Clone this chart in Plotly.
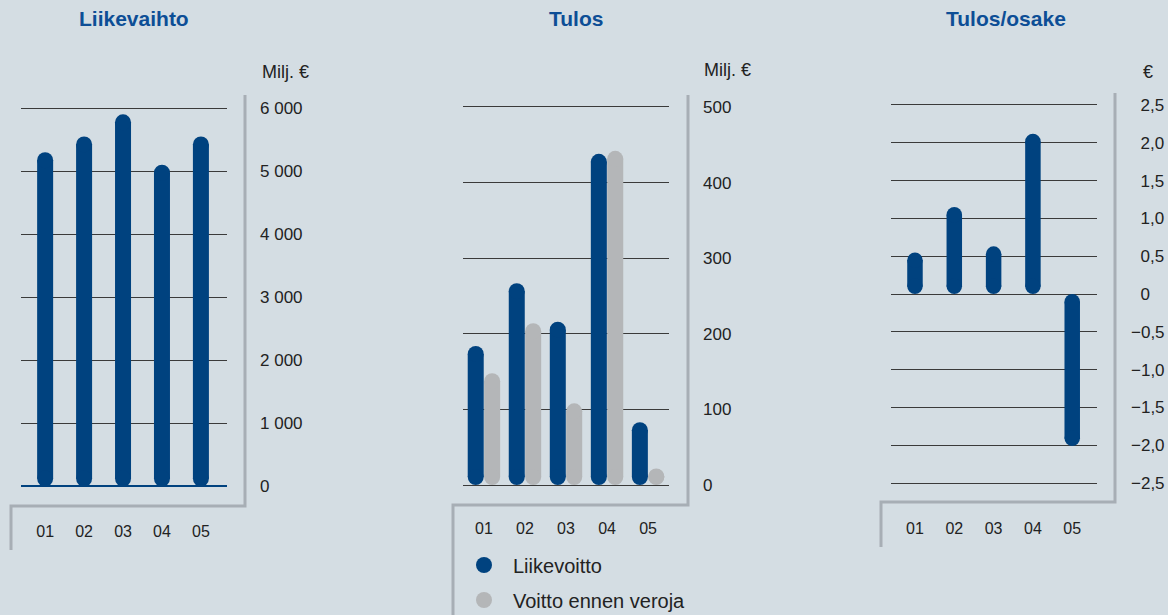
import plotly.graph_objects as go

W, H = 1168, 615

years = ["01", "02", "03", "04", "05"]

liikevaihto = [5300, 5550, 5900, 5100, 5550]
liikevoitto = [184, 267, 216, 438, 83]
voitto_ennen_veroja = [148, 214, 108, 442, 22]
tulos_osake = [0.55, 1.15, 0.63, 2.12, -2.01]

BG = "#d4dde3"
BLUE = "#00427f"
TITLE_BLUE = "#0d4e96"
GREY_BAR = "#b4b6b8"
FRAME = "#a7aeb5"
GRID = "#3a3a3a"
TXT = "#222222"
FONT = "Liberation Sans, Arial, sans-serif"

# panel geometry in pixels: plot box (x0, x1, ytop, ybottom) and axis ranges
panels = {
    "1": dict(x=(21, 227), y=(101.7, 492.8), xr=(-0.62, 4.67), yr=(-100, 6100)),
    "2": dict(x=(463, 669), y=(99.4, 492.6), xr=(-0.51, 4.51), yr=(-10, 510)),
    "3": dict(x=(891, 1097), y=(97.4, 490.6), xr=(-0.61, 4.63), yr=(-2.6, 2.6)),
}


def scales(p):
    sx = (p["x"][1] - p["x"][0]) / (p["xr"][1] - p["xr"][0])
    sy = (p["y"][1] - p["y"][0]) / (p["yr"][1] - p["yr"][0])
    return sx, sy


def suffix(key):
    return "" if key == "1" else key


def pill(fig, key, xs, vals, color, bar_px, name, legend=None):
    # flat bar body between two end circles -> pill shaped bar from 0 to value
    sx, sy = scales(panels[key])
    r = bar_px / 2 / sy
    starts = [r if v >= 0 else -r for v in vals]
    ends = [v - r if v >= 0 else v + r for v in vals]
    fig.add_trace(go.Bar(
        x=xs, y=[e - s for s, e in zip(starts, ends)], base=starts, width=bar_px / sx,
        marker=dict(color=color, line=dict(width=0)),
        xaxis="x" + suffix(key), yaxis="y" + suffix(key),
        name=name, showlegend=False, hoverinfo="skip",
    ))
    fig.add_trace(go.Scatter(
        x=xs + xs, y=starts + ends, mode="markers",
        marker=dict(color=color, size=bar_px, line=dict(width=0)),
        xaxis="x" + suffix(key), yaxis="y" + suffix(key),
        name=name, showlegend=legend is not None, legend=legend, hoverinfo="skip",
    ))


fig = go.Figure()

idx = list(range(len(years)))
pill(fig, "1", idx, liikevaihto, BLUE, 16, "Liikevaihto")
pill(fig, "2", [i - 0.2 for i in idx], liikevoitto, BLUE, 16, "Liikevoitto", legend="legend")
pill(fig, "2", [i + 0.2 for i in idx], voitto_ennen_veroja, GREY_BAR, 16, "Voitto ennen veroja", legend="legend2")
pill(fig, "3", idx, tulos_osake, BLUE, 15.5, "Tulos/osake")


def xaxis(key, standoff):
    p = panels[key]
    return dict(
        domain=[p["x"][0] / W, p["x"][1] / W], range=list(p["xr"]),
        anchor="y" + suffix(key),
        tickvals=idx, ticktext=years, showgrid=False, zeroline=False, showline=False,
        ticks="", tickfont=dict(family=FONT, size=16, color=TXT),
        ticklabelstandoff=standoff, fixedrange=True,
    )


def yaxis(key, tickvals, ticktext, zerocolor, zerowidth, standoff):
    p = panels[key]
    return dict(
        domain=[1 - p["y"][1] / H, 1 - p["y"][0] / H], range=list(p["yr"]),
        anchor="x" + suffix(key), side="right",
        tickvals=tickvals, ticktext=ticktext, showgrid=True, gridcolor=GRID, gridwidth=1,
        zeroline=True, zerolinecolor=zerocolor, zerolinewidth=zerowidth, showline=False,
        ticks="", tickfont=dict(family=FONT, size=17, color=TXT),
        ticklabelstandoff=standoff, fixedrange=True,
    )


y1_vals = [0, 1000, 2000, 3000, 4000, 5000, 6000]
y1_text = ["0", "1 000", "2 000", "3 000", "4 000", "5 000", "6 000"]
y2_vals = [0, 100, 200, 300, 400, 500]
y2_text = ["0", "100", "200", "300", "400", "500"]
y3_vals = [-2.5, -2.0, -1.5, -1.0, -0.5, 0, 0.5, 1.0, 1.5, 2.0, 2.5]
y3_text = ["\u22122,5", "\u22122,0", "\u22121,5", "\u22121,0", "\u22120,5",
           "\u20070", "\u20070,5", "\u20071,0", "\u20071,5", "\u20072,0", "\u20072,5"]

legend_style = dict(xanchor="left", bgcolor="rgba(0,0,0,0)",
                    font=dict(family=FONT, size=20, color=TXT), itemsizing="trace", itemwidth=48)

fig.update_layout(
    width=W, height=H,
    margin=dict(l=0, r=0, t=0, b=0, autoexpand=False),
    paper_bgcolor=BG, plot_bgcolor=BG,
    font=dict(family=FONT, color=TXT),
    barmode="overlay",
    xaxis=xaxis("1", 27), xaxis2=xaxis("2", 24), xaxis3=xaxis("3", 26),
    yaxis=yaxis("1", y1_vals, y1_text, BLUE, 2, 32),
    yaxis2=yaxis("2", y2_vals, y2_text, GRID, 1, 33),
    yaxis3=yaxis("3", y3_vals, y3_text, GRID, 1, 33),
    legend=dict(x=455 / W, y=1 - 565 / H, yanchor="middle", **legend_style),
    legend2=dict(x=455 / W, y=1 - 600 / H, yanchor="middle", **legend_style),
)

titles = [("Liikevaihto", 134), ("Tulos", 576), ("Tulos/osake", 1006)]
for text, cx in titles:
    fig.add_annotation(x=cx / W, y=1 - 18 / H, xref="paper", yref="paper", text=f"<b>{text}</b>",
                       showarrow=False, xanchor="center", yanchor="middle",
                       font=dict(family=FONT, size=21, color=TITLE_BLUE))

units = [("Milj. €", 260, 72), ("Milj. €", 702, 70), ("€", 1141, 72)]
for text, lx, ly in units:
    fig.add_annotation(x=lx / W, y=1 - ly / H, xref="paper", yref="paper", text=text,
                       showarrow=False, xanchor="left", yanchor="middle",
                       font=dict(family=FONT, size=18, color=TXT))

# grey frame brackets
frames = [
    [(245, 95), (245, 506), (11, 506), (11, 550)],
    [(688, 95), (688, 505), (453, 505), (453, 620)],
    [(1115, 93), (1115, 502), (881, 502), (881, 547)],
]
for pts in frames:
    path = "M " + " L ".join(f"{px / W},{1 - py / H}" for px, py in pts)
    fig.add_shape(type="path", path=path, xref="paper", yref="paper",
                  line=dict(color=FRAME, width=3), layer="below")

fig.write_html("out.html", config={"displayModeBar": False},
               post_script="document.body.style.margin='0px';")
